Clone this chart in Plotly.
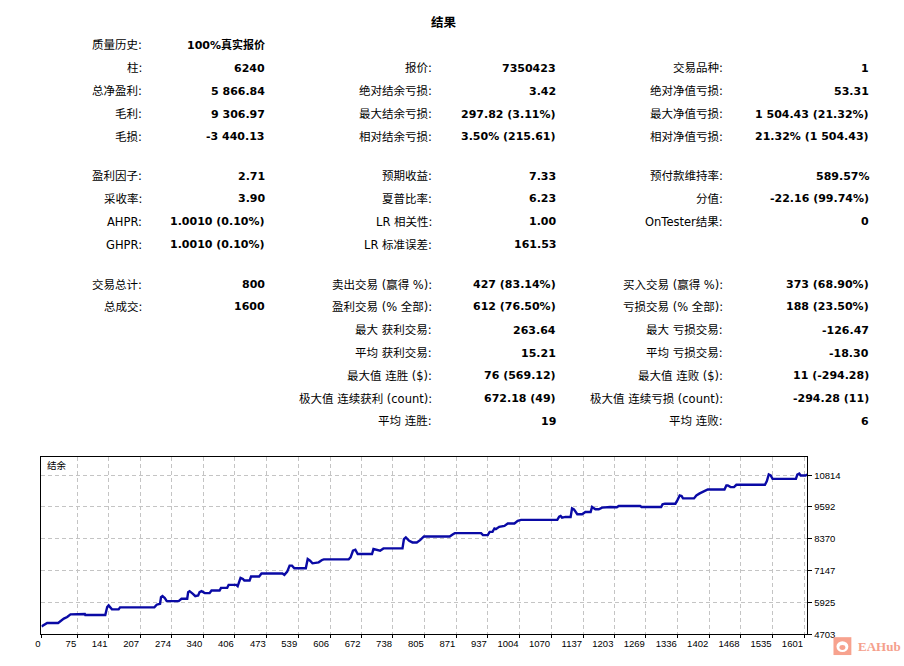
import plotly.graph_objects as go

W, H = 904, 666

# ---------------- data ----------------
title_text = "结果"

col1_labels = ["质量历史:", "柱:", "总净盈利:", "毛利:", "毛损:",
               "盈利因子:", "采收率:", "AHPR:", "GHPR:",
               "交易总计:", "总成交:", "", "", "", "", ""]
col1_values = ["100%真实报价", "6240", "5 866.84", "9 306.97", "-3 440.13",
               "2.71", "3.90", "1.0010 (0.10%)", "1.0010 (0.10%)",
               "800", "1600", "", "", "", "", ""]
col2_labels = ["", "报价:", "绝对结余亏损:", "最大结余亏损:", "相对结余亏损:",
               "预期收益:", "夏普比率:", "LR 相关性:", "LR 标准误差:",
               "卖出交易 (赢得 %):", "盈利交易 (% 全部):", "最大 获利交易:", "平均 获利交易:",
               "最大值 连胜 ($):", "极大值 连续获利 (count):", "平均 连胜:"]
col2_values = ["", "7350423", "3.42", "297.82 (3.11%)", "3.50% (215.61)",
               "7.33", "6.23", "1.00", "161.53",
               "427 (83.14%)", "612 (76.50%)", "263.64", "15.21",
               "76 (569.12)", "672.18 (49)", "19"]
col3_labels = ["", "交易品种:", "绝对净值亏损:", "最大净值亏损:", "相对净值亏损:",
               "预付款维持率:", "分值:", "OnTester结果:", "",
               "买入交易 (赢得 %):", "亏损交易 (% 全部):", "最大 亏损交易:", "平均 亏损交易:",
               "最大值 连败 ($):", "极大值 连续亏损 (count):", "平均 连败:"]
col3_values = ["", "1", "53.31", "1 504.43 (21.32%)", "21.32% (1 504.43)",
               "589.57%", "-22.16 (99.74%)", "0", "",
               "373 (68.90%)", "188 (23.50%)", "-126.47", "-18.30",
               "11 (-294.28)", "-294.28 (11)", "6"]

chart_label = "结余"

deal_no = [0, 10, 12, 35, 40, 47, 54, 61, 91, 92, 134, 138, 141, 148, 162, 165, 237, 242, 249,
           251, 254, 259, 263, 288, 294, 306, 308, 311, 318, 323, 329, 332, 336, 343, 353, 357,
           374, 377, 390, 393, 409, 412, 418, 423, 426, 437, 440, 457, 462, 506, 510, 516, 521,
           526, 531, 555, 559, 564, 569, 579, 582, 589, 593, 645, 649, 654, 659, 664, 694, 697,
           703, 711, 718, 758, 761, 765, 772, 779, 788, 795, 803, 857, 864, 868, 923, 927, 937,
           941, 947, 951, 954, 961, 972, 979, 993, 1000, 1007, 1083, 1087, 1090, 1093, 1100,
           1111, 1114, 1118, 1125, 1135, 1142, 1153, 1156, 1163, 1170, 1177, 1194, 1208, 1212,
           1257, 1260, 1301, 1304, 1309, 1331, 1335, 1340, 1344, 1347, 1370, 1375, 1382, 1389,
           1396, 1399, 1434, 1438, 1441, 1447, 1454, 1459, 1519, 1523, 1527, 1531, 1535, 1584,
           1587, 1591, 1594, 1604, 1608]
balance = [5000, 5110, 5136, 5136, 5212, 5301, 5365, 5467, 5480, 5441, 5441, 5747, 5811, 5658,
           5658, 5734, 5734, 5836, 5874, 6129, 6167, 6091, 5976, 5976, 6065, 6065, 6320, 6358,
           6256, 6167, 6192, 6320, 6358, 6282, 6282, 6383, 6383, 6485, 6485, 6600, 6600, 6549,
           6867, 6829, 6765, 6765, 6918, 6918, 7033, 7033, 6982, 7109, 7338, 7338, 7236, 7236,
           7593, 7529, 7427, 7440, 7465, 7555, 7580, 7580, 7656, 7911, 7949, 7784, 7784, 7975,
           7949, 7911, 8000, 8000, 8356, 8420, 8293, 8229, 8229, 8318, 8458, 8458, 8547, 8586,
           8586, 8509, 8509, 8636, 8636, 8764, 8738, 8827, 8866, 8955, 8955, 9057, 9095, 9095,
           9222, 9248, 9184, 9209, 9209, 9540, 9502, 9311, 9311, 9400, 9400, 9591, 9502, 9502,
           9566, 9591, 9579, 9630, 9630, 9591, 9591, 9693, 9719, 9719, 9846, 10037, 10011, 9922,
           9922, 10037, 10113, 10177, 10228, 10266, 10266, 10419, 10419, 10355, 10355, 10444,
           10444, 10584, 10839, 10801, 10673, 10673, 10839, 10877, 10801, 10801, 10839]

x_ticks = [0, 75, 141, 207, 274, 340, 406, 473, 539, 606, 672, 738, 805, 871, 937, 1004,
           1070, 1137, 1203, 1269, 1336, 1402, 1468, 1535, 1601]
y_ticks = [4703, 5925, 7147, 8370, 9592, 10814]

watermark_text = "EAHub"

# ---------------- layout helpers ----------------
def px_x(v):
    return v / W

def px_y(v):
    return 1 - v / H

row_y = [45.7, 69, 91.7, 115, 137.7, 177.7, 200.3, 223.3, 246.7,
         286.7, 309.3, 332.7, 356, 378.7, 402, 424.3]
label_right = [138.5, 430.5, 723.5]
value_right = [263, 556, 870.5]

FONT = "DejaVu Sans, Noto Sans CJK SC, sans-serif"
TICKFONT = dict(family="Liberation Sans, Noto Sans CJK SC, sans-serif", size=9.5, color="#000000")

fig = go.Figure()
fig.add_trace(go.Scatter(x=deal_no, y=balance, mode="lines",
                         line=dict(color="#0a0aa5", width=2.4),
                         hoverinfo="x+y", showlegend=False))

annotations = []
annotations.append(dict(text="<b>" + title_text + "</b>", x=px_x(441), y=px_y(22.5),
                        xref="paper", yref="paper", xanchor="center", yanchor="middle",
                        showarrow=False, font=dict(family=FONT, size=12.5, color="#000")))

columns = [(col1_labels, col1_values), (col2_labels, col2_values), (col3_labels, col3_values)]
for c, (labs, vals) in enumerate(columns):
    for i, (lab, val) in enumerate(zip(labs, vals)):
        if lab:
            annotations.append(dict(text=lab, x=px_x(label_right[c]), y=px_y(row_y[i]),
                                    xref="paper", yref="paper", xanchor="right", yanchor="middle",
                                    showarrow=False,
                                    font=dict(family=FONT, size=11.5, color="#000")))
        if val:
            annotations.append(dict(text="<b>" + val + "</b>", x=px_x(value_right[c]), y=px_y(row_y[i]),
                                    xref="paper", yref="paper", xanchor="right", yanchor="middle",
                                    showarrow=False,
                                    font=dict(family=FONT, size=11, color="#000")))

annotations.append(dict(text=chart_label, x=px_x(39), y=px_y(469), xref="paper", yref="paper",
                        xanchor="left", yanchor="middle", showarrow=False,
                        font=dict(family="Noto Sans CJK SC, sans-serif", size=9.5, color="#000")))

annotations.append(dict(text="<b>" + watermark_text + "</b>", x=px_x(856), y=px_y(651.5),
                        xref="paper", yref="paper", xanchor="left", yanchor="middle",
                        showarrow=False,
                        font=dict(family="Liberation Serif, serif", size=13, color="#f5a08c")))

shapes = [
    dict(type="rect", xref="paper", yref="paper", x0=px_x(833), x1=px_x(851), y0=px_y(660),
         y1=px_y(642), fillcolor="#f7a28e", line=dict(width=0), layer="above"),
    dict(type="circle", xref="paper", yref="paper", x0=px_x(836), x1=px_x(848), y0=px_y(657),
         y1=px_y(646), fillcolor="#ffffff", line=dict(width=0), layer="above"),
    dict(type="circle", xref="paper", yref="paper", x0=px_x(839), x1=px_x(845), y0=px_y(655),
         y1=px_y(650), fillcolor="#f7a28e", line=dict(width=0), layer="above"),
]

fig.update_layout(
    width=W, height=H,
    margin=dict(l=0, r=0, t=0, b=0),
    paper_bgcolor="#ffffff", plot_bgcolor="#ffffff",
    annotations=annotations, shapes=shapes,
    showlegend=False,
    xaxis=dict(domain=[px_x(35.7), px_x(806.7)], range=[0, 1608],
               tickmode="array", tickvals=x_ticks, ticks="outside", ticklen=3,
               tickcolor="#000", ticklabelposition="outside left", tickformat="d",
               showgrid=True, gridcolor="#c4c4c4", griddash="4px,3px", gridwidth=1,
               showline=True, mirror=True, linecolor="#000", linewidth=1,
               zeroline=False, tickfont=TICKFONT, fixedrange=True),
    yaxis=dict(domain=[1 - 639 / H, 1 - 460 / H], range=[4703, 11530], side="right",
               tickmode="array", tickvals=y_ticks, ticks="outside", ticklen=4,
               tickcolor="#000", tickformat="d",
               showgrid=True, gridcolor="#c4c4c4", griddash="4px,3px", gridwidth=1,
               showline=True, mirror=True, linecolor="#000", linewidth=1,
               zeroline=False, tickfont=TICKFONT, fixedrange=True),
)

page_fix = (
    "var de=document.documentElement, b=document.body;"
    "[de,b].forEach(function(e){e.style.margin='0';e.style.padding='0';"
    "e.style.overflow='hidden';});"
    "var gd=document.getElementById('{plot_id}');"
    "Plotly.relayout(gd,{width:window.innerWidth,height:window.innerHeight});"
)

fig.write_html("out.html", config={"displayModeBar": False}, post_script=page_fix)
